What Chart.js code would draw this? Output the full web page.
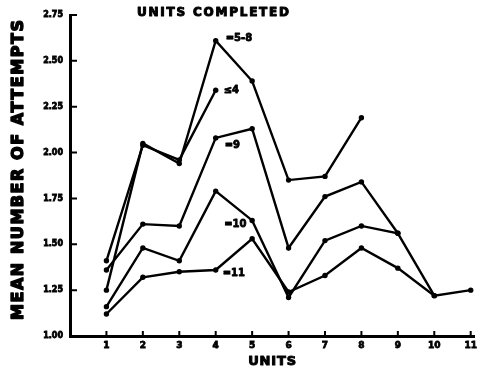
<!DOCTYPE html>
<html>
<head>
<meta charset="utf-8">
<script src="https://cdn.jsdelivr.net/npm/chart.js@4/dist/chart.umd.min.js"></script>
<style>
  html, body { margin: 0; padding: 0; background: #fff; }
  #wrap { width: 481px; height: 370px; }
</style>
</head>
<body>
<div id="wrap"><canvas id="c" width="481" height="370"></canvas></div>
<script>
// Units (x axis) and y tick labels
const units = [1, 2, 3, 4, 5, 6, 7, 8, 9, 10, 11];
const yTickLabels = ['1.00', '1.25', '1.50', '1.75', '2.00', '2.25', '2.50', '2.75'];

// Mean number of attempts per unit, by number of units completed
const groupNames = ['\u22644', '=5-8', '=9', '=10', '=11'];
const le4   = [1.41, 2.04, 1.96, 2.34];
const u5to8 = [1.25, 2.05, 1.94, 2.61, 2.39, 1.85, 1.87, 2.19];
const u9    = [1.36, 1.61, 1.60, 2.08, 2.13, 1.48, 1.76, 1.84, 1.56];
const u10   = [1.16, 1.48, 1.41, 1.79, 1.63, 1.21, 1.52, 1.60, 1.56, 1.22];
const u11   = [1.12, 1.32, 1.35, 1.36, 1.53, 1.24, 1.33, 1.48, 1.37, 1.22, 1.25];

const seriesValues = [le4, u5to8, u9, u10, u11];

const FONT = '"DejaVu Sans", sans-serif';

function toPoints(vals) {
  return vals.map((v, i) => ({ x: units[i], y: v }));
}

const datasets = seriesValues.map((vals, i) => ({
  label: groupNames[i],
  data: toPoints(vals),
  borderColor: '#000',
  backgroundColor: '#000',
  borderWidth: 2.4,
  pointRadius: 2.7,
  pointBorderWidth: 0,
  pointBackgroundColor: '#000',
  tension: 0,
  fill: false
}));

// Group label anchors, in data units, with pixel nudges
const groupLabelAnchors = [
  { text: '\u22644', x: 4, y: 2.34, dx: 8, dy: 0 },
  { text: '=5-8', x: 4, y: 2.61, dx: 10, dy: -2 },
  { text: '=9',   x: 4, y: 2.08, dx: 9, dy: 8 },
  { text: '=10',  x: 5, y: 1.63, dx: -28, dy: 4 },
  { text: '=11',  x: 4, y: 1.36, dx: 7, dy: 3 }
];

// heavy text: fill plus a thin outline of the same colour
function heavyText(ctx, text, x, y, weight) {
  ctx.lineWidth = weight;
  ctx.lineJoin = 'round';
  ctx.strokeText(text, x, y);
  ctx.fillText(text, x, y);
}

function spacedText(ctx, text, cx, cy, targetWidth, weight) {
  ctx.letterSpacing = '0px';
  const w = ctx.measureText(text).width;
  const n = text.length;
  const sp = Math.max(0, (targetWidth - w) / (n - 1));
  ctx.letterSpacing = sp + 'px';
  ctx.textAlign = 'left';
  ctx.textBaseline = 'middle';
  heavyText(ctx, text, cx - targetWidth / 2, cy, weight);
  ctx.letterSpacing = '0px';
}

const annotations = {
  id: 'annotations',
  afterDraw(chart) {
    const ctx = chart.ctx;
    const xs = chart.scales.x, ys = chart.scales.y;
    const area = chart.chartArea;
    ctx.save();
    ctx.fillStyle = '#000';
    ctx.strokeStyle = '#000';

    // inward tick marks
    ctx.lineWidth = 2;
    ctx.beginPath();
    yTickLabels.forEach(t => {
      const py = ys.getPixelForValue(parseFloat(t));
      ctx.moveTo(area.left, py);
      ctx.lineTo(area.left + 7, py);
    });
    units.forEach(u => {
      const px = xs.getPixelForValue(u);
      ctx.moveTo(px, area.bottom);
      ctx.lineTo(px, area.bottom - 5);
    });
    ctx.stroke();

    // chart heading
    ctx.font = 'bold 12px ' + FONT;
    spacedText(ctx, 'UNITS COMPLETED', 213, 13, 152, 1);

    // axis titles
    ctx.font = 'bold 13px ' + FONT;
    spacedText(ctx, 'UNITS', (area.left + area.right) / 2, 362, 48, 1);

    ctx.save();
    ctx.translate(19, 170);
    ctx.rotate(-Math.PI / 2);
    ctx.font = 'bold 16px ' + FONT;
    spacedText(ctx, 'MEAN NUMBER OF ATTEMPTS', 0, 0, 300, 1.4);
    ctx.restore();

    // group labels
    ctx.font = 'bold 10px ' + FONT;
    ctx.textAlign = 'left';
    ctx.textBaseline = 'middle';
    groupLabelAnchors.forEach(a => {
      const px = xs.getPixelForValue(a.x) + a.dx;
      const py = ys.getPixelForValue(a.y) + a.dy;
      heavyText(ctx, a.text, px, py, 0.8);
    });
    ctx.restore();
  }
};

new Chart(document.getElementById('c'), {
  type: 'line',
  data: { datasets },
  options: {
    responsive: false,
    animation: false,
    layout: { padding: { top: 15, right: 4, left: 0, bottom: 0 } },
    plugins: { legend: { display: false }, tooltip: { enabled: false }, title: { display: false } },
    scales: {
      x: {
        type: 'linear',
        min: 0,
        max: 11.1,
        afterFit(s) { s.height = 34; },
        afterBuildTicks(s) { s.ticks = units.map(u => ({ value: u })); },
        ticks: {
          color: '#000',
          padding: 4,
          textStrokeColor: '#000',
          textStrokeWidth: 0.8,
          font: { family: FONT, weight: 'bold', size: 9 },
          callback: v => String(v)
        },
        grid: { display: false, drawTicks: false },
        border: { display: true, color: '#000', width: 3 }
      },
      y: {
        min: 1,
        max: 2.75,
        afterFit(s) { s.width = 70; },
        afterBuildTicks(s) { s.ticks = yTickLabels.map(t => ({ value: parseFloat(t) })); },
        ticks: {
          color: '#000',
          padding: 7,
          textStrokeColor: '#000',
          textStrokeWidth: 0.8,
          font: { family: FONT, weight: 'bold', size: 8 },
          callback: (v, i) => yTickLabels[i]
        },
        grid: { display: false, drawTicks: false },
        border: { display: true, color: '#000', width: 3 }
      }
    }
  },
  plugins: [annotations]
});
</script>
</body>
</html>
